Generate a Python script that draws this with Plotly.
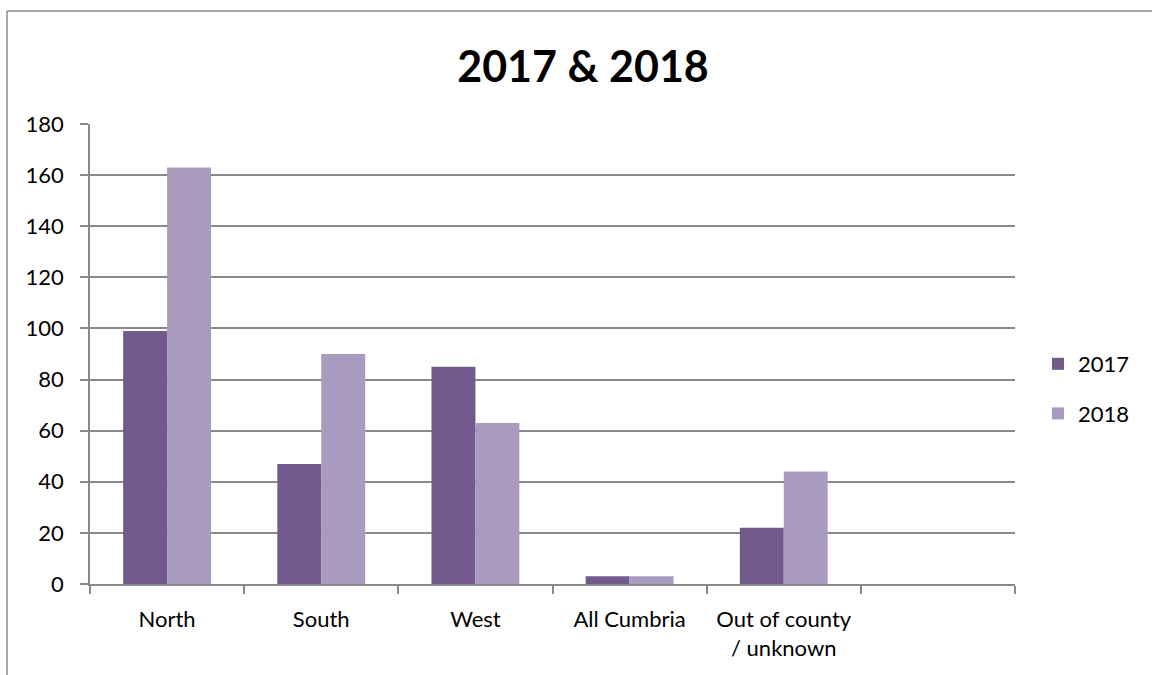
import plotly.graph_objects as go

categories = ["North", "South", "West", "All Cumbria", "Out of county<br>/ unknown", " "]
values_2017 = [99, 47, 85, 3, 22, None]
values_2018 = [163, 90, 63, 3, 44, None]
y_ticks = [0, 20, 40, 60, 80, 100, 120, 140, 160, 180]

FONT = "Lato, 'Open Sans', sans-serif"
GRAY = "#898989"

fig = go.Figure()
fig.add_trace(go.Bar(name="2017", x=categories, y=values_2017, marker_color="#725a8f",
                     marker_line_width=0, legendgroup="a"))
fig.add_trace(go.Bar(name="2018", x=categories, y=values_2018, marker_color="#a99bbf",
                     marker_line_width=0, legendgroup="b"))

L, R, T, B = 90, 1015, 124, 584
W, H = 1152, 675
pw, ph = R - L, B - T

def px(x):
    return (x - L) / pw

def py(y):
    return (B - y) / ph

fig.update_layout(
    width=W, height=H,
    margin=dict(l=L, r=W - R, t=T, b=H - B, autoexpand=False),
    paper_bgcolor="white", plot_bgcolor="white",
    barmode="group", bargap=0.43, bargroupgap=0,
    font=dict(family=FONT, size=22, color="black"),
    title=dict(text="<b>2017 &amp; 2018</b>", x=583 / W, xanchor="center", xref="container",
               y=1 - 67 / H, yanchor="middle", font=dict(size=43, family=FONT, color="black")),
    legend=dict(x=px(1038), xanchor="left", y=py(389), yanchor="middle",
                font=dict(size=22), itemsizing="constant", traceorder="grouped",
                tracegroupgap=18, itemwidth=30),
    showlegend=True,
    xaxis=dict(type="category", categoryorder="array", categoryarray=categories,
               tickson="boundaries", ticks="outside", ticklen=8, tickcolor=GRAY, tickwidth=1.5,
               showline=True, linecolor=GRAY, linewidth=1.5, showgrid=False,
               range=[-0.5, 5.5], tickfont=dict(size=22), ticklabelstandoff=15),
    yaxis=dict(range=[0, 180], tickvals=y_ticks, ticks="outside", ticklen=8, tickcolor=GRAY, tickwidth=1.5,
               showline=True, linecolor=GRAY, linewidth=1.5, showgrid=True, gridcolor=GRAY, gridwidth=1.5,
               zeroline=False, tickfont=dict(size=22), ticklabelstandoff=12),
    shapes=[
        dict(type="line", xref="paper", yref="paper", x0=px(7), x1=px(7), y0=py(11), y1=py(680),
             line=dict(color=GRAY, width=1.5)),
        dict(type="line", xref="paper", yref="paper", x0=px(7), x1=px(1160), y0=py(11), y1=py(11),
             line=dict(color=GRAY, width=1.5)),
    ],
)

fig.write_html("out.html", config={"displayModeBar": False},
               post_script="document.body.style.margin='0';document.body.style.overflow='hidden';")
